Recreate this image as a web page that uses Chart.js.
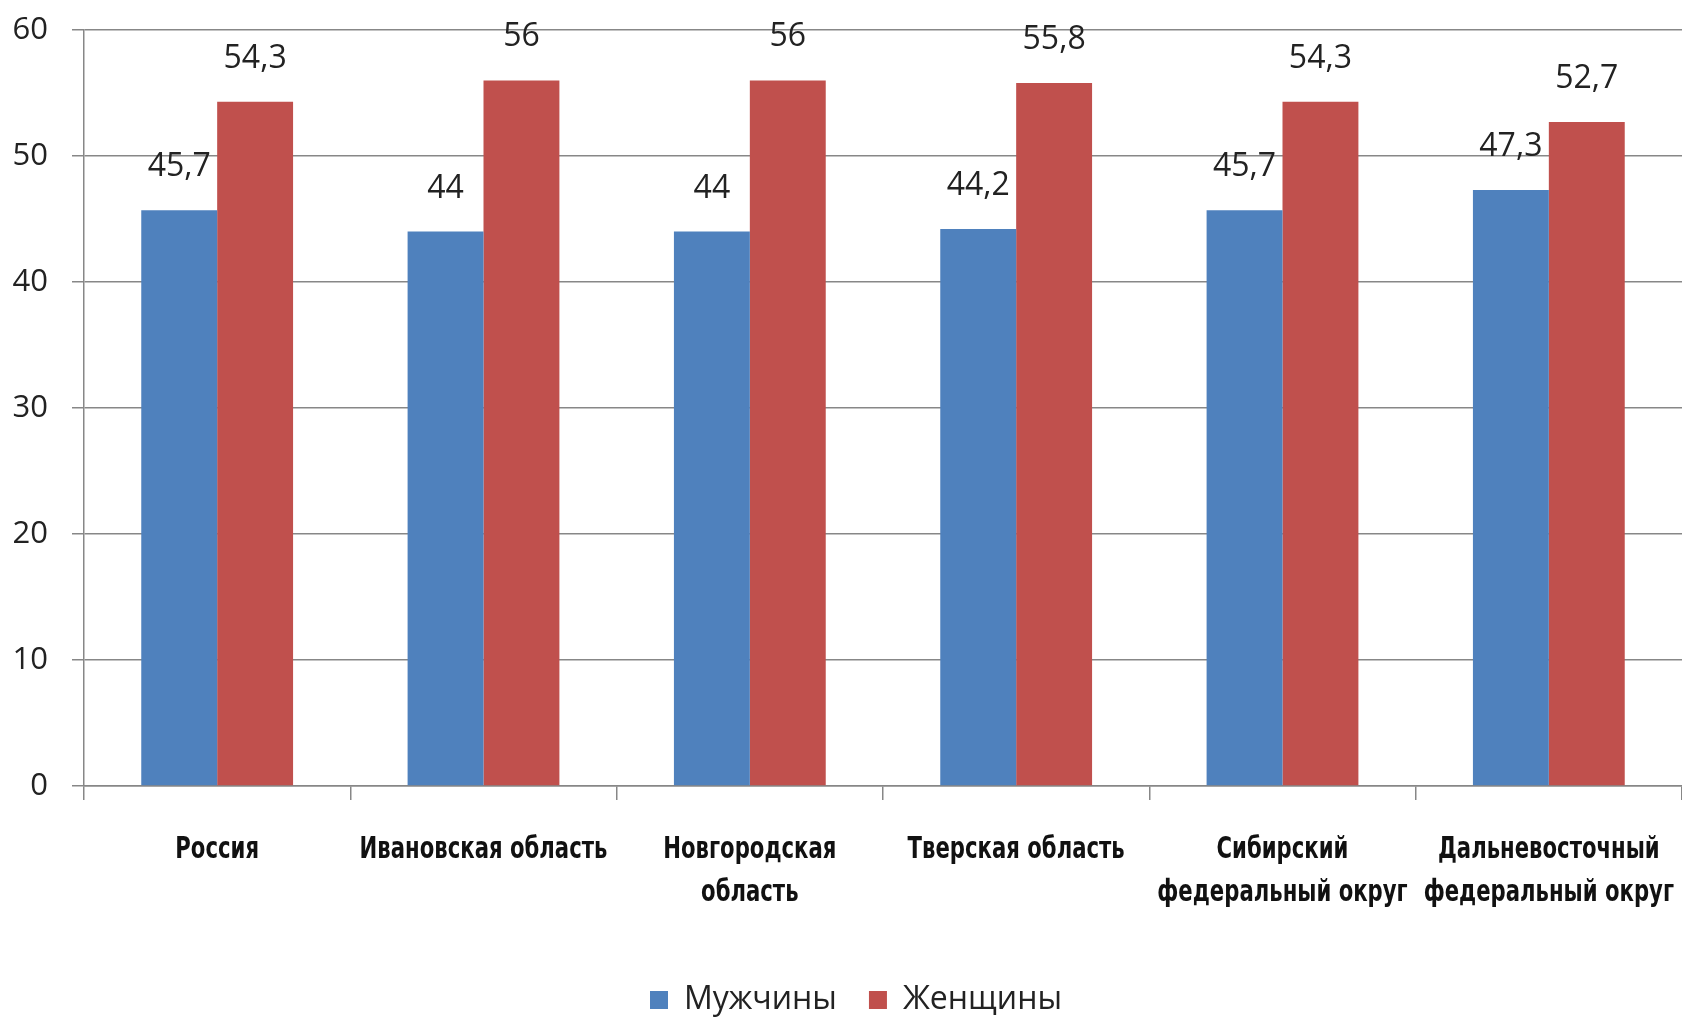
<!DOCTYPE html>
<html>
<head>
<meta charset="utf-8">
<script src="https://cdn.jsdelivr.net/npm/chart.js@4.4.0/dist/chart.umd.min.js"></script>
<style>
  html, body { margin: 0; padding: 0; background: #fff; }
  #wrap { width: 1682px; height: 1019px; }
</style>
</head>
<body>
<div id="wrap"><canvas id="chart" width="1682" height="1019"></canvas></div>
<script>
// regions (multi-line labels as in the source)
const regions = [
    ['Россия'],
    ['Ивановская область'],
    ['Новгородская', 'область'],
    ['Тверская область'],
    ['Сибирский', 'федеральный округ'],
    ['Дальневосточный', 'федеральный округ']
];
const men = [45.7, 44, 44, 44.2, 45.7, 47.3];
const women = [54.3, 56, 56, 55.8, 54.3, 52.7];
const yTicks = [0, 10, 20, 30, 40, 50, 60];

const gridGrey = '#878787';
const textDark = '#222222';

// draws the value above each bar, decimal comma like the original
const valueLabels = {
    id: 'valueLabels',
    afterDatasetsDraw(chart) {
        const ctx = chart.ctx;
        ctx.save();
        ctx.font = '32px "Open Sans", sans-serif';
        ctx.fillStyle = textDark;
        ctx.textAlign = 'center';
        ctx.textBaseline = 'alphabetic';
        chart.data.datasets.forEach((ds, i) => {
            const meta = chart.getDatasetMeta(i);
            meta.data.forEach((bar, j) => {
                const txt = String(ds.data[j]).replace('.', ',');
                ctx.fillText(txt, bar.x, bar.y - 34);
            });
        });
        ctx.restore();
    }
};

// category labels in a condensed bold face (no narrow font installed, so squeeze it)
const condensedLabels = {
    id: 'condensedLabels',
    afterDraw(chart) {
        const ctx = chart.ctx;
        const xs = chart.scales.x;
        ctx.save();
        ctx.font = 'bold 31px "DejaVu Sans Condensed", "DejaVu Sans", sans-serif';
        ctx.fillStyle = '#111111';
        ctx.textAlign = 'center';
        ctx.textBaseline = 'middle';
        chart.data.labels.forEach((lines, i) => {
            const x = xs.getPixelForValue(i);
            lines.forEach((line, k) => {
                ctx.save();
                ctx.translate(x, xs.top + 64 + k * 43);
                ctx.scale(0.76, 1);
                ctx.fillText(line, 0, 0);
                ctx.restore();
            });
        });
        ctx.restore();
    }
};

// legend sits a bit right of canvas centre in the original
const legendNudge = {
    id: 'legendNudge',
    afterLayout(chart) {
        chart.legend.left += 15;
        chart.legend.right += 15;
    }
};

new Chart(document.getElementById('chart'), {
    type: 'bar',
    data: {
        labels: regions,
        datasets: [
            { label: 'Мужчины', data: men, backgroundColor: '#4F81BD' },
            { label: 'Женщины', data: women, backgroundColor: '#C0504D' }
        ]
    },
    options: {
        responsive: false,
        animation: false,
        datasets: { bar: { categoryPercentage: 0.57, barPercentage: 1.0 } },
        layout: { padding: { top: 30, right: 0, left: 0, bottom: -7 } },
        scales: {
            x: {
                offset: true,
                grid: { display: true, drawOnChartArea: false, drawTicks: true, tickLength: 14, color: gridGrey, lineWidth: 1.5 },
                border: { display: true, color: gridGrey, width: 1.5 },
                ticks: { display: false },
                afterFit: s => {
                    s.height = 166;
                    s.paddingLeft = 0;
                    s.paddingRight = 0;
                }
            },
            y: {
                min: 0,
                max: 60,
                afterBuildTicks: s => { s.ticks = yTicks.map(v => ({ value: v })); },
                grid: { color: gridGrey, lineWidth: 1.5, tickLength: 12 },
                border: { display: true, color: gridGrey, width: 1.5 },
                ticks: {
                    color: textDark,
                    padding: 24,
                    font: { family: '"Open Sans", sans-serif', size: 31 }
                },
                afterFit: s => {
                    s.width = 84;
                    s.paddingTop = 0;
                    s.paddingBottom = 0;
                }
            }
        },
        plugins: {
            legend: {
                position: 'bottom',
                labels: {
                    color: textDark,
                    boxWidth: 18,
                    boxHeight: 18,
                    padding: 32,
                    font: { family: '"Open Sans", sans-serif', size: 32 }
                }
            },
            tooltip: { enabled: false }
        }
    },
    plugins: [valueLabels, condensedLabels, legendNudge]
});
</script>
</body>
</html>
